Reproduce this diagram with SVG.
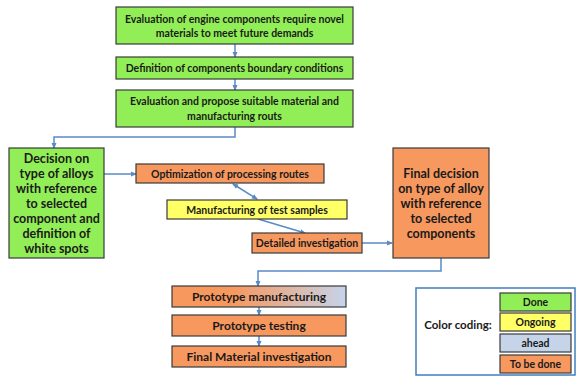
<svg xmlns="http://www.w3.org/2000/svg" width="576" height="376" viewBox="0 0 576 376">
<style>
.b{stroke:#3a3a3a;stroke-width:1.2}
.g{fill:#92ee56}.o{fill:#f7985f}.y{fill:#ffff66}.a{fill:#c6d4ea}
text{font-family:Lato,"Liberation Sans",sans-serif;font-weight:bold;fill:#1a1a1a;text-anchor:middle}
.s{font-size:10.5px}.m{font-size:12px}.l{font-size:12.5px}.k{font-size:11.5px}
.c{fill:none;stroke:#5a8ac6;stroke-width:1.5}
</style>
<defs>
<marker id="ar" markerWidth="6" markerHeight="6" refX="5" refY="3" orient="auto" markerUnits="userSpaceOnUse"><path d="M0,0.5 L6,3 L0,5.5 z" fill="#5a8ac6"/></marker>
<marker id="as" markerWidth="6" markerHeight="6" refX="1" refY="3" orient="auto" markerUnits="userSpaceOnUse"><path d="M6,0.5 L0,3 L6,5.5 z" fill="#5a8ac6"/></marker>
<linearGradient id="gr" x1="0" y1="0" x2="1" y2="0"><stop offset="0.35" stop-color="#f7985f"/><stop offset="1" stop-color="#c6d4ea"/></linearGradient>
</defs>
<g id="connectors">
<path class="c" d="M235,44 V57" marker-end="url(#ar)"/>
<path class="c" d="M235,79 V90" marker-end="url(#ar)"/>
<path class="c" d="M235,127 V137 H54 V148" marker-end="url(#ar)"/>
<path class="c" d="M104,174 H136" marker-end="url(#ar)"/>
<path class="c" d="M233,184 L257,199" marker-start="url(#as)" marker-end="url(#ar)"/>
<path class="c" d="M258,219 L305,233" marker-end="url(#ar)"/>
<path class="c" d="M362,243 H392" marker-end="url(#ar)"/>
<path class="c" d="M441,258 V271 H258 V286" marker-end="url(#ar)"/>
<path class="c" d="M259,307 V315" marker-end="url(#ar)"/>
<path class="c" d="M259,336 V346" marker-end="url(#ar)"/>
</g>
<g id="n1"><rect class="b g" x="116" y="7" width="237" height="37"/><text class="s" x="234.5" y="22.5">Evaluation of engine components require novel</text><text class="s" x="234.5" y="37">materials to meet future demands</text></g>
<g id="n2"><rect class="b g" x="116" y="57" width="237" height="22"/><text class="s" x="234.5" y="72">Definition of components boundary conditions</text></g>
<g id="n3"><rect class="b g" x="116" y="90" width="237" height="37"/><text class="s" x="234.5" y="105">Evaluation and propose suitable material and</text><text class="s" x="234.5" y="120">manufacturing routs</text></g>
<g id="n4"><rect class="b g" x="9" y="148" width="95" height="110"/>
<text class="l" x="56.5" y="163">Decision on</text><text class="l" x="56.5" y="178">type of alloys</text><text class="l" x="56.5" y="193">with reference</text><text class="l" x="56.5" y="208">to selected</text><text class="l" x="56.5" y="223">component and</text><text class="l" x="56.5" y="238">definition of</text><text class="l" x="56.5" y="253">white spots</text></g>
<g id="n5"><rect class="b o" x="136" y="164" width="188" height="19"/><text class="s" x="230" y="177.5">Optimization of processing routes</text></g>
<g id="n6"><rect class="b y" x="167" y="200" width="180" height="19"/><text class="s" x="257" y="213.5">Manufacturing of test samples</text></g>
<g id="n7"><rect class="b o" x="252" y="233" width="110" height="20"/><text class="s" x="307" y="247">Detailed investigation</text></g>
<g id="n8"><rect class="b o" x="393" y="148" width="96" height="110"/>
<text class="l" x="441" y="178">Final decision</text><text class="l" x="441" y="193">on type of alloy</text><text class="l" x="441" y="208">with reference</text><text class="l" x="441" y="223">to selected</text><text class="l" x="441" y="238">components</text></g>
<g id="n9"><rect class="b" fill="url(#gr)" x="172" y="286" width="174" height="21"/><text class="m" x="259" y="301">Prototype manufacturing</text></g>
<g id="n10"><rect class="b o" x="172" y="315" width="174" height="21"/><text class="m" x="259" y="330">Prototype testing</text></g>
<g id="n11"><rect class="b o" x="172" y="346" width="174" height="21"/><text class="m" x="259" y="361">Final Material investigation</text></g>
<g id="legend">
<rect x="416" y="288" width="159" height="87" fill="#fff" stroke="#3f7fc0" stroke-width="1.5"/>
<text class="k" x="458" y="329">Color coding:</text>
<rect class="b g" x="500" y="293" width="71" height="18"/><text class="s" x="535.5" y="306">Done</text>
<rect class="b y" x="500" y="313" width="71" height="18"/><text class="s" x="535.5" y="326">Ongoing</text>
<rect class="b a" x="500" y="334" width="71" height="18"/><text class="s" x="535.5" y="347">ahead</text>
<rect class="b o" x="500" y="355" width="71" height="18"/><text class="s" x="535.5" y="368">To be done</text>
</g>
</svg>
